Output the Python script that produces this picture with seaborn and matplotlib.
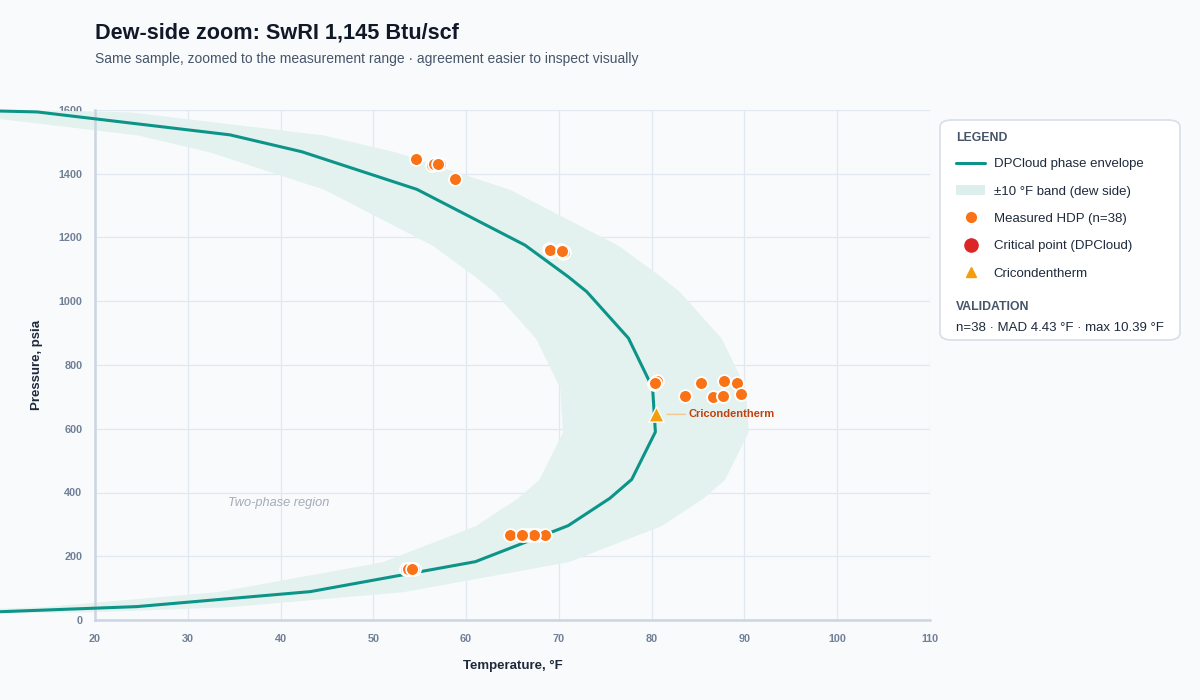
import matplotlib.pyplot as plt
import seaborn as sns
from matplotlib.lines import Line2D
from matplotlib.patches import Patch, FancyBboxPatch

# DPCloud phase envelope (dew side)
env_T = [5.0, 13.75, 34.55, 42.3, 54.7, 66.35, 71.0, 73.0, 77.5, 80.1, 80.4,
         77.85, 75.5, 71.0, 61.0, 43.2, 24.5, 9.8, 5.0]
env_P = [1600, 1594, 1522, 1469, 1351, 1176, 1077, 1030, 884, 728, 590,
         441, 382, 296, 183, 89, 42, 26, 24]

# measured hydrocarbon dew points (38, several overlap)
hdp_T = [54.6, 56.3, 56.75, 57.2, 58.8, 56.5, 57.0,
         68.95, 69.1, 70.2, 70.4, 70.6, 69.0, 70.3,
         80.55, 80.2, 85.3, 87.8, 89.2, 83.6, 86.6, 87.65, 89.6, 80.4, 87.7,
         64.7, 66.2, 66.7, 67.05, 67.6, 68.5, 67.3, 66.0,
         53.5, 53.95, 54.4, 53.7, 54.2]
hdp_P = [1445, 1427, 1433, 1431, 1384, 1430, 1432,
         1163, 1157, 1161, 1152, 1155, 1160, 1158,
         751, 739, 744, 750, 743, 703, 701, 703, 709, 745, 702,
         267, 267, 267, 267, 268, 267, 267, 267,
         159, 159, 159, 159, 159]

cct_T, cct_P = 80.45, 645   # cricondentherm
band_width = 10

x_ticks = list(range(20, 111, 10))
y_ticks = list(range(0, 1601, 200))

sns.set_style('whitegrid', {'axes.facecolor': '#f8fafc', 'grid.color': '#e2e8f0'})
plt.rcParams['font.family'] = ['Liberation Sans', 'DejaVu Sans']

fig = plt.figure(figsize=(12, 7), dpi=100, facecolor='#f8fafc')
ax = fig.add_axes([95 / 1200, 80 / 700, 835 / 1200, 510 / 700])
ax.set_facecolor('#f8fafc')
ax.set_axisbelow(True)

# +/-10 F band around the envelope
ax.fill_betweenx(env_P, [t - band_width for t in env_T], [t + band_width for t in env_T],
                 color='#e3f1ef', lw=0, clip_on=False, zorder=1)

sns.lineplot(x=env_T, y=env_P, sort=False, estimator=None, color='#0d9488',
             lw=2.2, ax=ax, zorder=3)
ax.lines[-1].set_clip_on(False)

sns.scatterplot(x=hdp_T, y=hdp_P, color='#f97316', s=85, edgecolor='white',
                linewidth=1.3, ax=ax, zorder=4)
ax.scatter([cct_T], [cct_P], marker='^', s=120, color='#f59e0b',
           edgecolor='white', linewidth=1, zorder=5)
ax.annotate('Cricondentherm', xy=(cct_T + 0.9, cct_P), xytext=(84.0, cct_P),
            fontsize=8, fontweight='bold', color='#c2410c', va='center',
            arrowprops=dict(arrowstyle='-', color='#f5c68f', lw=1, shrinkA=0, shrinkB=2))

ax.text(34.3, 367, 'Two-phase region', fontsize=9.2, style='italic',
        color='#a3acb9', va='center')

ax.set_xlim(20, 110)
ax.set_ylim(0, 1600)
ax.set_xticks(x_ticks)
ax.set_yticks(y_ticks)
ax.tick_params(axis='both', length=0, labelsize=7.8, colors='#718096')
ax.tick_params(axis='x', pad=10)
ax.tick_params(axis='y', pad=9)
for lab in ax.get_xticklabels() + ax.get_yticklabels():
    lab.set_fontweight('bold')
ax.grid(True, color='#e2e8f0', lw=0.9)
for side in ['top', 'right']:
    ax.spines[side].set_visible(False)
for side in ['left', 'bottom']:
    ax.spines[side].set_color('#cbd5e1')
    ax.spines[side].set_linewidth(1.8)

ax.set_xlabel('Temperature, °F', fontsize=9.5, fontweight='bold', color='#1e293b')
ax.set_ylabel('Pressure, psia', fontsize=9.5, fontweight='bold', color='#1e293b')
ax.xaxis.set_label_coords(0.5, -(660 - 620) / 510)
ax.yaxis.set_label_coords(-(95 - 43) / 835, 0.5)

fig.text(95 / 1200, 1 - 33 / 700, 'Dew-side zoom: SwRI 1,145 Btu/scf', fontsize=15.6,
         fontweight='bold', color='#111827', va='center')
fig.text(95 / 1200, 1 - 59 / 700,
         'Same sample, zoomed to the measurement range · agreement easier to inspect visually',
         fontsize=10, color='#475569', va='center')

# legend panel
box = FancyBboxPatch((940 / 1200, 1 - 340 / 700), 240 / 1200, 220 / 700,
                     boxstyle='round,pad=0,rounding_size=0.01', transform=fig.transFigure,
                     facecolor='white', edgecolor='#d9dee7', lw=1.2, zorder=0)
fig.patches.append(box)
fig.text(956 / 1200, 1 - 138 / 700, 'LEGEND', fontsize=8.8, fontweight='bold',
         color='#475569', va='center')
handles = [
    Line2D([], [], color='#0d9488', lw=2.2),
    Patch(facecolor='#dcefed', edgecolor='none'),
    Line2D([], [], marker='o', ls='none', color='#f97316', markersize=7),
    Line2D([], [], marker='o', ls='none', color='#dc2626', markersize=9.5),
    Line2D([], [], marker='^', ls='none', color='#f59e0b', markersize=7.5),
]
labels = ['DPCloud phase envelope', '±10 °F band (dew side)', 'Measured HDP (n=38)',
          'Critical point (DPCloud)', 'Cricondentherm']
leg = fig.legend(handles, labels, loc='upper left', bbox_to_anchor=(956 / 1200, 1 - 158 / 700),
                 frameon=False, fontsize=9.5, labelspacing=1.15, handlelength=2.2,
                 handletextpad=0.65, borderpad=0, borderaxespad=0)
for t in leg.get_texts():
    t.set_color('#1e293b')
fig.text(956 / 1200, 1 - 307 / 700, 'VALIDATION', fontsize=8.8, fontweight='bold',
         color='#475569', va='center')
fig.text(956 / 1200, 1 - 328 / 700, 'n=38 · MAD 4.43 °F · max 10.39 °F', fontsize=9.5,
         color='#1e293b', va='center')

fig.savefig('out.png', dpi=100, facecolor=fig.get_facecolor())
